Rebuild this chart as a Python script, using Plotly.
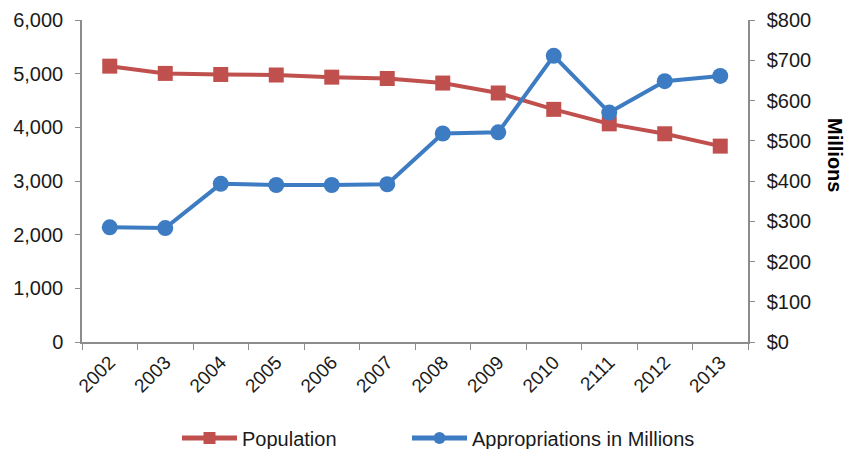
import plotly.graph_objects as go

years = ["2002", "2003", "2004", "2005", "2006", "2007", "2008", "2009", "2010", "2111", "2012", "2013"]
population = [5140, 5005, 4985, 4975, 4935, 4910, 4825, 4640, 4335, 4065, 3880, 3650]
appropriations = [285, 283, 393, 390, 390, 392, 518, 521, 711, 570, 648, 661]

left_ticks = [0, 1000, 2000, 3000, 4000, 5000, 6000]
left_labels = ["0", "1,000", "2,000", "3,000", "4,000", "5,000", "6,000"]
right_ticks = [0, 100, 200, 300, 400, 500, 600, 700, 800]
right_labels = ["$0", "$100", "$200", "$300", "$400", "$500", "$600", "$700", "$800"]

RED = "#C0504D"
BLUE = "#3D7CC2"
AXIS = "#8C8C8C"
FONT = "Liberation Sans, Arial, sans-serif"
FS = 20

fig = go.Figure()
fig.add_trace(go.Scatter(
    x=years, y=population, name="Population", mode="lines+markers",
    line=dict(color=RED, width=4), marker=dict(symbol="square", size=15, color=RED),
    yaxis="y", legend="legend"))
fig.add_trace(go.Scatter(
    x=years, y=appropriations, name="Appropriations in Millions", mode="lines+markers",
    line=dict(color=BLUE, width=4), marker=dict(symbol="circle", size=16, color=BLUE),
    yaxis="y2", legend="legend2"))

# page body has an 8px margin, so figure coordinates are offset by -8
OFF = 8
W, H = 854, 449
L, R, T, B = 82 - OFF, 748 - OFF, 20 - OFF, 342 - OFF


def legend_at(px_start):
    return dict(orientation="h", xref="container", yref="container",
                x=(px_start - OFF - 6) / W, xanchor="left",
                y=1 - (438 - OFF) / H, yanchor="middle",
                font=dict(size=20), itemwidth=55, itemsizing="constant",
                bgcolor="rgba(0,0,0,0)")


fig.update_layout(
    width=W, height=H,
    margin=dict(l=L, r=W - R, t=T, b=H - B, autoexpand=False),
    paper_bgcolor="white", plot_bgcolor="white",
    font=dict(family=FONT, size=FS, color="#1a1a1a"),
    showlegend=True,
    legend=legend_at(183),
    legend2=legend_at(413),
    xaxis=dict(type="category", showgrid=False, showline=True, linecolor=AXIS, linewidth=1.5,
               ticks="outside", tickson="boundaries", ticklen=6, tickcolor=AXIS,
               tickangle=-45, tickfont=dict(size=19), range=[-0.5, 11.5], zeroline=False,
               automargin=False),
    yaxis=dict(range=[0, 6000], tickvals=left_ticks, ticktext=left_labels, showgrid=False,
               showline=True, linecolor=AXIS, linewidth=1.5, ticks="outside", ticklen=5,
               tickcolor=AXIS, zeroline=False, tickfont=dict(size=FS), automargin=False,
               ticklabelstandoff=8),
    yaxis2=dict(range=[0, 800], tickvals=right_ticks, ticktext=right_labels, overlaying="y",
                side="right", showgrid=False, showline=True, linecolor=AXIS, linewidth=1.5,
                ticks="outside", ticklen=5, tickcolor=AXIS, zeroline=False,
                tickfont=dict(size=FS), automargin=False, ticklabelstandoff=8),
    annotations=[dict(text="<b>Millions</b>", x=(835 - OFF - L) / (R - L),
                      y=(B - (155 - OFF)) / (B - T),
                      xref="paper", yref="paper", xanchor="center", yanchor="middle",
                      showarrow=False, textangle=90, font=dict(size=20, color="#000"))],
)

fig.write_html("out.html")
